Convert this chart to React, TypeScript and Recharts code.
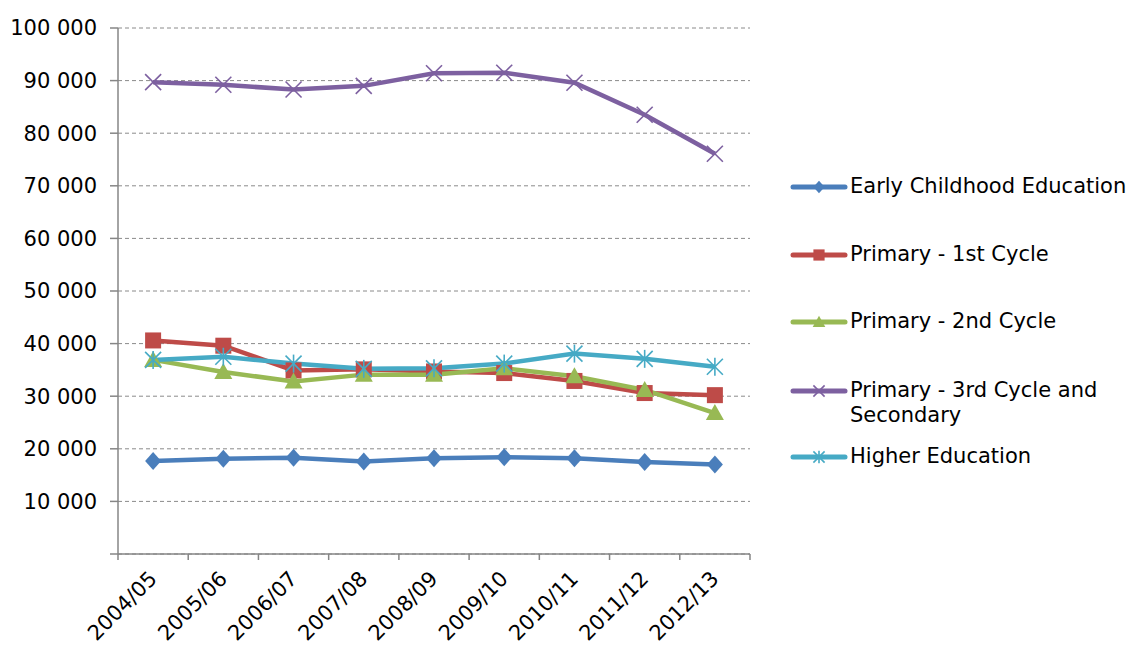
import { LineChart, Line, XAxis, YAxis, CartesianGrid } from 'recharts';

const years = ['2004/05', '2005/06', '2006/07', '2007/08', '2008/09', '2009/10', '2010/11', '2011/12', '2012/13'];

const earlyChildhood = [17700, 18100, 18300, 17600, 18200, 18400, 18200, 17500, 17000];
const primary1st = [40600, 39600, 34900, 35100, 34700, 34400, 32900, 30600, 30200];
const primary2nd = [36900, 34600, 32800, 34100, 34100, 35300, 33800, 31200, 26800];
const primary3rd = [89700, 89200, 88300, 89000, 91400, 91500, 89600, 83500, 76100];
const higherEd = [36900, 37500, 36200, 35200, 35300, 36200, 38100, 37100, 35600];

const yTicks = [0, 10000, 20000, 30000, 40000, 50000, 60000, 70000, 80000, 90000, 100000];

type MarkerKind = 'diamond' | 'square' | 'triangle' | 'cross' | 'star';

const series: { key: string; name: string; color: string; marker: MarkerKind }[] = [
  { key: 'early', name: 'Early Childhood Education', color: '#4a7ebb', marker: 'diamond' },
  { key: 'p1', name: 'Primary - 1st Cycle', color: '#be4b48', marker: 'square' },
  { key: 'p2', name: 'Primary - 2nd Cycle', color: '#98b954', marker: 'triangle' },
  { key: 'p3', name: 'Primary - 3rd Cycle and Secondary', color: '#7d60a0', marker: 'cross' },
  { key: 'higher', name: 'Higher Education', color: '#46aac5', marker: 'star' },
];

// categories sit in the middle of each slot; tick marks go on the slot edges
const data = years.map((year, i) => ({
  x: i + 0.5,
  year,
  early: earlyChildhood[i],
  p1: primary1st[i],
  p2: primary2nd[i],
  p3: primary3rd[i],
  higher: higherEd[i],
}));

const xTicks: number[] = [];
for (let i = 0; i <= years.length; i++) {
  xTicks.push(i);
  if (i < years.length) xTicks.push(i + 0.5);
}

const FONT = '"DejaVu Sans", Verdana, sans-serif';
const AXIS_GREY = '#868686';

function Marker({ kind, cx, cy, color, s = 1 }: { kind: MarkerKind; cx: number; cy: number; color: string; s?: number }) {
  if (cx == null || cy == null) return null;
  switch (kind) {
    case 'diamond':
      return <polygon points={`${cx},${cy - 9 * s} ${cx + 8 * s},${cy} ${cx},${cy + 9 * s} ${cx - 8 * s},${cy}`} fill={color} />;
    case 'square':
      return <rect x={cx - 8 * s} y={cy - 8 * s} width={16 * s} height={16 * s} fill={color} />;
    case 'triangle':
      return <polygon points={`${cx},${cy - 9 * s} ${cx + 9 * s},${cy + 7 * s} ${cx - 9 * s},${cy + 7 * s}`} fill={color} />;
    case 'cross':
      return (
        <g stroke={color} strokeWidth={1.6}>
          <line x1={cx - 8 * s} y1={cy - 8 * s} x2={cx + 8 * s} y2={cy + 8 * s} />
          <line x1={cx - 8 * s} y1={cy + 8 * s} x2={cx + 8 * s} y2={cy - 8 * s} />
        </g>
      );
    case 'star':
      return (
        <g stroke={color} strokeWidth={1.6}>
          <line x1={cx - 8 * s} y1={cy - 8 * s} x2={cx + 8 * s} y2={cy + 8 * s} />
          <line x1={cx - 8 * s} y1={cy + 8 * s} x2={cx + 8 * s} y2={cy - 8 * s} />
          <line x1={cx} y1={cy - 9 * s} x2={cx} y2={cy + 9 * s} />
        </g>
      );
  }
  return null;
}

function YearTick(props: any) {
  const { x, y, payload } = props;
  const v = payload.value as number;
  if (Number.isInteger(v)) {
    return <line x1={x} y1={y - 6} x2={x} y2={y} stroke={AXIS_GREY} strokeWidth={1.5} />;
  }
  return (
    <text x={0} y={0} transform={`translate(${x + 5},${y + 20}) rotate(-45)`} textAnchor="end" fontSize={21} fontFamily={FONT} fill="#000">
      {years[Math.floor(v)]}
    </text>
  );
}

const formatThousands = (v: number) => (v === 0 ? '' : v.toLocaleString('en-US').replace(/,/g, ' '));

const legendTops = [174, 242, 309, 378, 444];

function LegendBox() {
  return (
    <div style={{ position: 'absolute', left: 790, top: 0, width: 341, height: 646, fontFamily: FONT, fontSize: 21, color: '#000' }}>
      {series.map((s, i) => (
        <div key={s.key} style={{ position: 'absolute', top: legendTops[i], left: 0, display: 'flex', alignItems: 'flex-start' }}>
          <svg width={60} height={26} style={{ flex: 'none' }}>
            <line x1={3} y1={13} x2={55} y2={13} stroke={s.color} strokeWidth={5} strokeLinecap="round" />
            <Marker kind={s.marker} cx={29} cy={13} color={s.color} s={0.7} />
          </svg>
          <div style={{ width: 281, lineHeight: '25px' }}>{s.name}</div>
        </div>
      ))}
    </div>
  );
}

export default function App() {
  return (
    <div style={{ position: 'absolute', left: 0, top: 0, width: 1131, height: 646, background: '#fff', overflow: 'hidden' }}>
      <LineChart width={1131} height={646} data={data} margin={{ top: 28, right: 381, left: 8, bottom: 0 }}>
        <CartesianGrid vertical={false} stroke="#8a8a8a" strokeDasharray="4 3" />
        <XAxis
          dataKey="x"
          type="number"
          domain={[0, years.length]}
          ticks={xTicks}
          interval={0}
          height={92}
          axisLine={{ stroke: AXIS_GREY, strokeWidth: 1.5 }}
          tickLine={false}
          tickSize={6}
          tickMargin={0}
          tick={<YearTick />}
        />
        <YAxis
          domain={[0, 100000]}
          ticks={yTicks}
          width={110}
          axisLine={{ stroke: AXIS_GREY, strokeWidth: 1.5 }}
          tickLine={{ stroke: AXIS_GREY, strokeWidth: 1.5 }}
          tickSize={8}
          tickMargin={13}
          tickFormatter={formatThousands}
          tick={{ fontSize: 21, fontFamily: FONT, fill: '#000' }}
        />
        {series.map((s) => (
          <Line
            key={s.key}
            dataKey={s.key}
            name={s.name}
            type="linear"
            stroke={s.color}
            strokeWidth={4.5}
            isAnimationActive={false}
            dot={(p: any) => <Marker key={`${s.key}-${p.index}`} kind={s.marker} cx={p.cx} cy={p.cy} color={s.color} />}
            activeDot={false}
          />
        ))}
      </LineChart>
      <LegendBox />
    </div>
  );
}
